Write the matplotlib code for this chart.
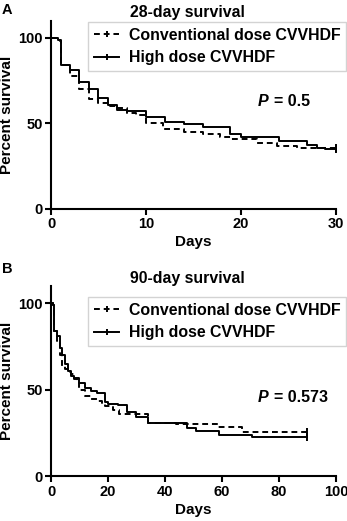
import matplotlib
matplotlib.use("Agg")
import matplotlib.pyplot as plt
from matplotlib.lines import Line2D

plt.rcParams['font.family'] = ['Liberation Sans', 'DejaVu Sans']
plt.rcParams['font.weight'] = 'bold'

# Panel A: 28-day survival
a_high_t = [0, 0.7, 0.9, 1, 2, 3, 4, 5, 6, 7, 8, 10, 12, 14, 16, 18.8, 20, 24, 27, 28, 28.8, 30]
a_high_s = [100, 99, 98, 84, 81, 74, 70, 65, 61, 58, 57, 54, 51, 49.4, 48, 43.6, 42, 40, 37.6, 35.5, 35, 35]
a_conv_t = [0, 0.8, 1, 2, 3, 4, 5, 6, 7, 8, 9, 10, 11.8, 14, 16, 17.8, 19, 21.7, 23.8, 25.9, 30]
a_conv_s = [100, 99, 84, 78, 70, 64, 62, 60, 59, 56, 55, 50, 46.5, 44.7, 43.6, 41.9, 40.7, 38.4, 37, 35.5, 35.5]

# Panel B: 90-day survival
b_high_t = [0, 0.7, 0.9, 1, 2, 3, 4, 5, 6, 7, 8, 10, 12, 14, 16, 19, 20, 23.5, 26.6, 30, 34, 43, 47.7, 51, 59, 70.5, 90]
b_high_s = [100, 99, 98, 84, 81, 74, 70, 65, 61, 58, 57, 54, 51, 49.4, 48, 43, 42, 41, 37, 34, 31, 30.6, 27.7, 26, 23.7, 22.5, 22.5]
b_conv_t = [0, 0.8, 1, 2, 3, 4, 5, 6, 7, 8, 9, 10, 11.8, 14, 16, 17.8, 19, 21.7, 23.8, 34, 44, 58.6, 67, 90]
b_conv_s = [100, 99, 84, 78, 70, 64, 62, 60, 59, 56, 55, 50, 46.5, 44.7, 43.6, 41.9, 40.7, 38.4, 36, 31, 30, 28.3, 25.4, 25.4]

panels = [
    dict(letter='A', title='28-day survival', xmax=30, xticks=[0, 10, 20, 30], p='0.5',
         ptxt=(21.8, 63), high=(a_high_t, a_high_s), conv=(a_conv_t, a_conv_s)),
    dict(letter='B', title='90-day survival', xmax=100, xticks=[0, 20, 40, 60, 80, 100], p='0.573',
         ptxt=(72.6, 45.5), high=(b_high_t, b_high_s), conv=(b_conv_t, b_conv_s)),
]

fig = plt.figure(figsize=(3.47, 5.21), dpi=100)
rects = [[0.147, 0.599, 0.821, 0.361], [0.147, 0.086, 0.821, 0.365]]
letter_y = [0.995, 0.497]
legend_y = [0.957, 0.429]
title_pad = [3, -3]

for i, pnl in enumerate(panels):
    ax = fig.add_axes(rects[i])
    ht, hs = pnl['high']
    ct, cs = pnl['conv']
    ax.step(ct, cs, where='post', color='black', lw=1.4, linestyle=(0, (3, 2)))
    ax.step(ht, hs, where='post', color='black', lw=1.4)
    # censor marks at end
    ax.plot([ct[-1]], [cs[-1]], marker='|', color='black', ms=6, mew=1.4)
    ax.plot([ht[-1]], [hs[-1]], marker='|', color='black', ms=6, mew=1.4)
    ax.set_xlim(0, pnl['xmax'])
    ax.set_ylim(0, 110)
    ax.set_xticks(pnl['xticks'])
    ax.set_yticks([0, 50, 100])
    for s in ['top', 'right']:
        ax.spines[s].set_visible(False)
    for s in ['left', 'bottom']:
        ax.spines[s].set_linewidth(1.5)
    ax.spines['bottom'].set_bounds(0, pnl['xmax'])
    ax.spines['left'].set_bounds(0, 110)
    ax.tick_params(axis='both', direction='out', length=4, width=1.5, labelsize=10.5, pad=2)
    for lab in ax.get_xticklabels() + ax.get_yticklabels():
        lab.set_fontweight('bold')
    ax.set_xlabel('Days', fontsize=11, fontweight='bold', labelpad=3)
    ax.set_ylabel('Percent survival', fontsize=11, fontweight='bold', labelpad=3)
    ax.set_title(pnl['title'], fontsize=11.4, fontweight='bold', x=0.48, pad=title_pad[i])
    ax.text(pnl['ptxt'][0], pnl['ptxt'][1], 'P', fontsize=11.5,
            fontweight='bold', fontstyle='italic', va='center', ha='left')
    ax.text(pnl['ptxt'][0] + pnl['xmax'] * 0.057, pnl['ptxt'][1], '= ' + pnl['p'], fontsize=11.5,
            fontweight='bold', va='center', ha='left')
    handles = [
        Line2D([], [], color='black', lw=1.4, linestyle=(0, (3, 2)), marker='|', ms=5, mew=1.4),
        Line2D([], [], color='black', lw=1.4, marker='|', ms=5, mew=1.4),
    ]
    leg = fig.legend(handles, ['Conventional dose CVVHDF', 'High dose CVVHDF'],
                     loc='upper right', bbox_to_anchor=(0.997, legend_y[i]),
                     bbox_transform=fig.transFigure, frameon=True,
                     fancybox=False, edgecolor='#c8c8c8', handlelength=1.6,
                     handletextpad=0.6, borderpad=0.35, labelspacing=0.45, numpoints=1,
                     borderaxespad=0, prop={'weight': 'bold', 'size': 11.4})
    leg.get_frame().set_linewidth(1.0)
    fig.text(0.005, letter_y[i], pnl['letter'], fontsize=10.5, fontweight='bold', va='top', ha='left')

fig.savefig('out.png', dpi=100)
